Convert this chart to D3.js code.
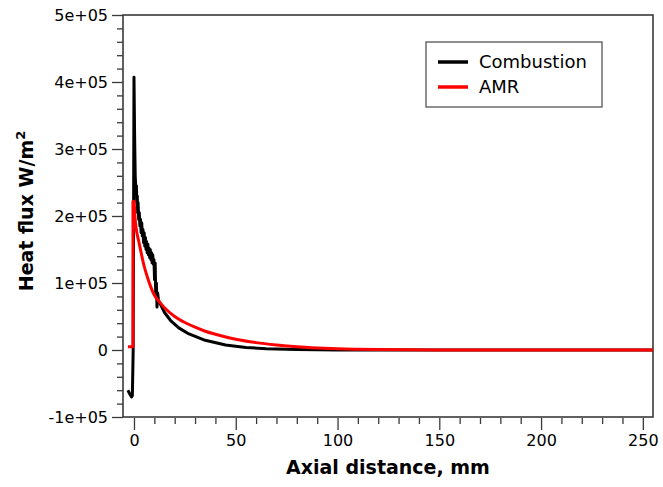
<!DOCTYPE html>
<html>
<head>
<meta charset="utf-8">
<script src="https://cdn.jsdelivr.net/npm/d3@7"></script>
<style>
  body { margin: 0; background: #fff; }
  svg { font-family: "DejaVu Sans", Verdana, sans-serif; }
</style>
</head>
<body>
<svg width="663" height="487"></svg>
<script>
// Combustion (black) heat flux, axial distance mm vs W/m2
const combX = [-3, -2, -1.2, -0.8, -0.4, 0, 0.3, 0.6, 1, 1.2, 1.4, 1.6, 1.8, 2, 2.3, 2.6, 2.9, 3.2, 3.5, 3.8, 4.1, 4.4, 4.7, 5, 5.3, 5.6, 5.9, 6.2, 6.5, 6.8, 7.1, 7.4, 7.7, 8, 8.3, 8.6, 8.9, 9.2, 9.5, 9.8, 10.1, 10.4, 10.7, 11, 11.3, 11.6, 12, 13, 15, 18, 22, 27, 35, 45, 55, 65, 80, 100, 150, 255];
const combY = [-60000, -66000, -70000, -68000, 0, 407000, 320000, 260000, 235000, 245000, 220000, 230000, 205000, 220000, 195000, 205000, 185000, 195000, 175000, 190000, 170000, 180000, 160000, 175000, 155000, 168000, 150000, 162000, 145000, 158000, 142000, 152000, 138000, 150000, 135000, 145000, 130000, 142000, 128000, 135000, 105000, 130000, 80000, 100000, 64000, 85000, 75000, 68000, 56000, 44000, 33000, 24000, 14500, 7500, 3800, 1800, 600, 100, 0, 0];

// AMR (red)
const amrX = [-3, -0.5, -0.5, 0, 0.5, 1, 2.5, 5, 7, 10, 13, 16, 20, 25, 30, 35, 40, 50, 60, 70, 80, 90, 100, 120, 150, 255];
const amrY = [5000, 5000, 222000, 222000, 198000, 183000, 160000, 125000, 105000, 82000, 70000, 60000, 50000, 41000, 34000, 28000, 23500, 16000, 11000, 7500, 4800, 3000, 1700, 600, 150, 0];

const seriesNames = ["Combustion", "AMR"];
const seriesColors = ["#000000", "#ff0000"];

const xTicks = [0, 50, 100, 150, 200, 250];
const yTicks = [-100000, 0, 100000, 200000, 300000, 400000, 500000];
const yTickLabels = ["-1e+05", "0", "1e+05", "2e+05", "3e+05", "4e+05", "5e+05"];

const pLeft = 123, pRight = 653, pTop = 15, pBottom = 417;
const svg = d3.select("svg");

const x = d3.scaleLinear().domain([-5.4, 255]).range([pLeft, pRight]);
const y = d3.scaleLinear().domain([-100000, 500000]).range([pBottom, pTop]);

const axisColor = "#3a3a3a";

// minor ticks
const xMinor = d3.range(0, 251, 10).filter(v => !xTicks.includes(v));
const yMinor = d3.range(-100000, 500001, 20000).filter(v => !yTicks.includes(v));

const gx = svg.append("g").attr("transform", `translate(0,${pBottom + 1})`);
gx.call(d3.axisBottom(x).tickValues(xTicks).tickSize(12).tickPadding(5).tickFormat(d3.format("d")));
gx.append("g").call(d3.axisBottom(x).tickValues(xMinor).tickSize(6).tickFormat(""));
gx.selectAll(".domain").remove();

const gy = svg.append("g").attr("transform", `translate(${pLeft},0)`);
gy.call(d3.axisLeft(y).tickValues(yTicks).tickSize(11).tickPadding(4).tickFormat((d, i) => yTickLabels[i]));
gy.append("g").call(d3.axisLeft(y).tickValues(yMinor).tickSize(6).tickFormat(""));
gy.selectAll(".domain").remove();

svg.selectAll(".tick line").attr("stroke", axisColor).attr("stroke-width", 1.3);
svg.selectAll(".tick text").attr("fill", "#000").style("font-size", "16px").style("font-family", "DejaVu Sans, Verdana, sans-serif");

// frame
svg.append("rect")
  .attr("x", pLeft).attr("y", pTop)
  .attr("width", pRight - pLeft).attr("height", pBottom - pTop)
  .attr("fill", "none").attr("stroke", axisColor).attr("stroke-width", 1.6);

svg.append("defs").append("clipPath").attr("id", "clip")
  .append("rect").attr("x", pLeft).attr("y", pTop).attr("width", pRight - pLeft).attr("height", pBottom - pTop);

const line = d3.line().x(d => x(d[0])).y(d => y(d[1]));
const plot = svg.append("g").attr("clip-path", "url(#clip)");

plot.append("path")
  .datum(d3.zip(combX, combY))
  .attr("fill", "none").attr("stroke", seriesColors[0]).attr("stroke-width", 3)
  .attr("stroke-linejoin", "round")
  .attr("d", line);

plot.append("path")
  .datum(d3.zip(amrX, amrY))
  .attr("fill", "none").attr("stroke", seriesColors[1]).attr("stroke-width", 3)
  .attr("stroke-linejoin", "round")
  .attr("d", d3.line().x(d => x(d[0])).y(d => y(d[1])).curve(d3.curveMonotoneX));

// axis titles
svg.append("text")
  .attr("x", (pLeft + pRight) / 2).attr("y", 474)
  .attr("text-anchor", "middle")
  .style("font-size", "19px").style("font-weight", "bold")
  .text("Axial distance, mm");

const yt = svg.append("text")
  .attr("transform", `translate(33,${(pTop + pBottom) / 2 - 5}) rotate(-90)`)
  .attr("text-anchor", "middle")
  .style("font-size", "19px").style("font-weight", "bold");
yt.append("tspan").text("Heat flux W/m");
yt.append("tspan").attr("dy", -8).style("font-size", "13px").text("2");

// legend
const lg = svg.append("g");
lg.append("rect")
  .attr("x", 426).attr("y", 42).attr("width", 176).attr("height", 65)
  .attr("fill", "#fff").attr("stroke", "#555").attr("stroke-width", 1.3);
seriesNames.forEach((name, i) => {
  const yy = 62 + i * 25;
  lg.append("line").attr("x1", 438).attr("x2", 468).attr("y1", yy).attr("y2", yy)
    .attr("stroke", seriesColors[i]).attr("stroke-width", 3.5);
  lg.append("text").attr("x", 479).attr("y", yy + 6)
    .style("font-size", "18px").text(name);
});
</script>
</body>
</html>
